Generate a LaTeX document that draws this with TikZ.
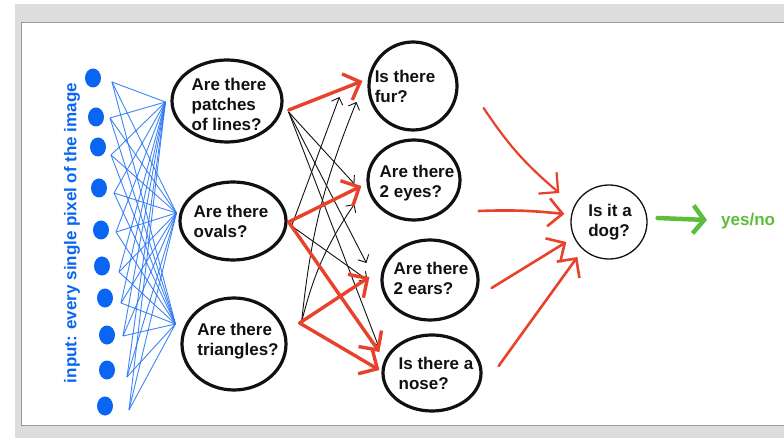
\documentclass[tikz,border=0pt]{standalone}
\usepackage{fontspec}
\setmainfont{Liberation Sans}
\usetikzlibrary{arrows.meta,shapes.geometric,calc}
\definecolor{bgray}{HTML}{DDDDDD}
\definecolor{fgray}{HTML}{9A9A9A}
\definecolor{ink}{HTML}{111111}
\definecolor{pblue}{HTML}{0A66F2}
\definecolor{lblue}{HTML}{2A78F5}
\definecolor{rred}{HTML}{E8412C}
\definecolor{ggreen}{HTML}{5CBE3C}
\tikzset{
  q/.style={ellipse, draw=ink, line width=3.2pt, inner sep=0pt},
  qt/.style={font=\fontsize{17}{20}\selectfont\bfseries, align=left, inner sep=0pt, text=ink},
  dot/.style={ellipse, fill=pblue, minimum width=16, minimum height=19, inner sep=0pt},
  bl/.style={draw=lblue, line width=0.9pt, opacity=0.9},
  rd/.style={draw=rred, line width=3.4pt, line cap=round, line join=round, -{Straight Barb[length=14pt,width=28pt]}},
  rdo/.style={draw=rred, line width=2.6pt, line cap=round, line join=round, -{Straight Barb[length=14pt,width=28pt]}},
  bk/.style={draw=ink, line width=0.9pt, line cap=round, -{Straight Barb[length=6pt,width=12pt]}},
  gr/.style={draw=ggreen, line width=4.5pt, line cap=round, line join=round, -{Straight Barb[length=11pt,width=28pt]}}
}
\begin{document}
\begin{tikzpicture}[x=1pt,y=-1pt]
\useasboundingbox (0,0) rectangle (784,438);
\fill[white] (0,0) rectangle (784,438);
\fill[bgray] (15,4) rectangle (790,440);
\filldraw[fill=white, draw=fgray, line width=1pt] (21,23) rectangle (800,425);

% question nodes
\node[q, minimum width=110, minimum height=82] (A) at (227,101) {};
\node[q, minimum width=106, minimum height=78] (B) at (233,221) {};
\node[q, minimum width=104, minimum height=92] (C) at (234,344) {};
\node[q, minimum width=88, minimum height=88] (D) at (413,86) {};
\node[q, minimum width=92, minimum height=80] (E) at (414,180) {};
\node[q, minimum width=96, minimum height=80] (F) at (430,280) {};
\node[q, minimum width=98, minimum height=76] (G) at (432,373) {};
\node[ellipse, draw=ink, line width=1.3pt, minimum width=76, minimum height=74, inner sep=0pt] (H) at (609,222) {};

\node[qt] (At) at (229,104) {Are there\\patches\\of lines?};
\node[qt] (Bt) at (231,221) {Are there\\ovals?};
\node[qt] (Ct) at (238,341) {Are there\\triangles?};
\node[qt] (Dt) at (405,86) {Is there\\fur?};
\node[qt] (Et) at (417,183) {Are there\\2 eyes?};
\node[qt] (Ft) at (431,278) {Are there\\2 ears?};
\node[qt] (Gt) at (436,373) {Is there a\\nose?};
\node[qt] (Ht) at (610,222) {Is it a\\dog?};

% input label
\node[font=\fontsize{17}{20}\selectfont\bfseries, text=pblue, rotate=90, inner sep=0pt] (inp) at (72,233) {input: every single pixel of the image};

% hubs
\coordinate (hubA) at ($(A.west)+(-5,1)$);
\coordinate (hubB) at ($(B.west)+(-2,-8)$);
\coordinate (hubC) at ($(C.west)+(-5,-20)$);

% dots and blue lines
\foreach \i/\x/\y/\sx/\sy in {1/93/78/112/82, 2/96/117/110/118, 3/98/147/111/155, 4/99/188/114/193, 5/101/230/116/232, 6/102/266/119/272, 7/105/298/121/303, 8/107/335/123/336, 9/107/370/127/377, 10/105/406/129/410}{
  \node[dot] (p\i) at (\x,\y) {};
  \foreach \h in {A,B,C}{
    \draw[bl] ($(p\i)+(\sx-\x,\sy-\y)$) -- (hub\h);
  }
}

% black connectors
\draw[bk] ($(A.east)+(5,11)$) -- ($(E.west)+(-12,4)$);
\draw[bk] ($(A.east)+(5,11)$) -- ($(F.west)+(-14,-17)$);
\draw[bk] ($(A.east)+(5,11)$) -- ($(G.west)+(-3,-27)$);
\draw[bk] ($(B.east)+(4,5)$) -- ($(D.west)+(-28,11)$);
\draw[bk] ($(B.east)+(4,5)$) -- ($(F.west)+(-13,0)$);
\draw[bk] ($(C.east)+(14,-22)$) to[bend left=8] ($(D.west)+(-11,16)$);
\draw[bk] ($(C.east)+(14,-22)$) to[bend left=10] ($(E.west)+(-12,24)$);

% red connectors layer 1 -> 2
\draw[rd] ($(A.east)+(5,9)$) -- ($(D.west)+(-5,-5)$);
\draw[rd] ($(B.east)+(1,1)$) -- ($(E.west)+(-5,6)$);
\draw[rd] ($(B.east)+(1,1)$) -- ($(G.west)+(-2,-21)$);
\draw[rd] ($(C.east)+(12,-21)$) -- ($(F.west)+(-11,-3)$);
\draw[rd] ($(C.east)+(12,-21)$) -- ($(G.west)+(-2,-3)$);

% red connectors layer 2 -> output
\draw[rdo, line width=2.2pt] ($(D.east)+(25,22)$) to[bend right=8] ($(H.west)+(-11,-29)$);
\draw[rdo] ($(E.east)+(17,31)$) to[bend left=4] ($(H.west)+(-6,-8)$);
\draw[rdo] ($(F.east)+(12,8)$) -- ($(H.west)+(-4,20)$);
\draw[rdo] ($(G.east)+(16,-7)$) -- ($(H.west)+(7,35)$);

% output
\node[font=\fontsize{17}{20}\selectfont\bfseries, text=ggreen, anchor=west, inner sep=0pt] (yn) at (721,221) {yes/no};
\draw[gr] ($(H.east)+(10,-4)$) -- ($(yn.west)+(-14,-1)$);
\end{tikzpicture}
\end{document}
